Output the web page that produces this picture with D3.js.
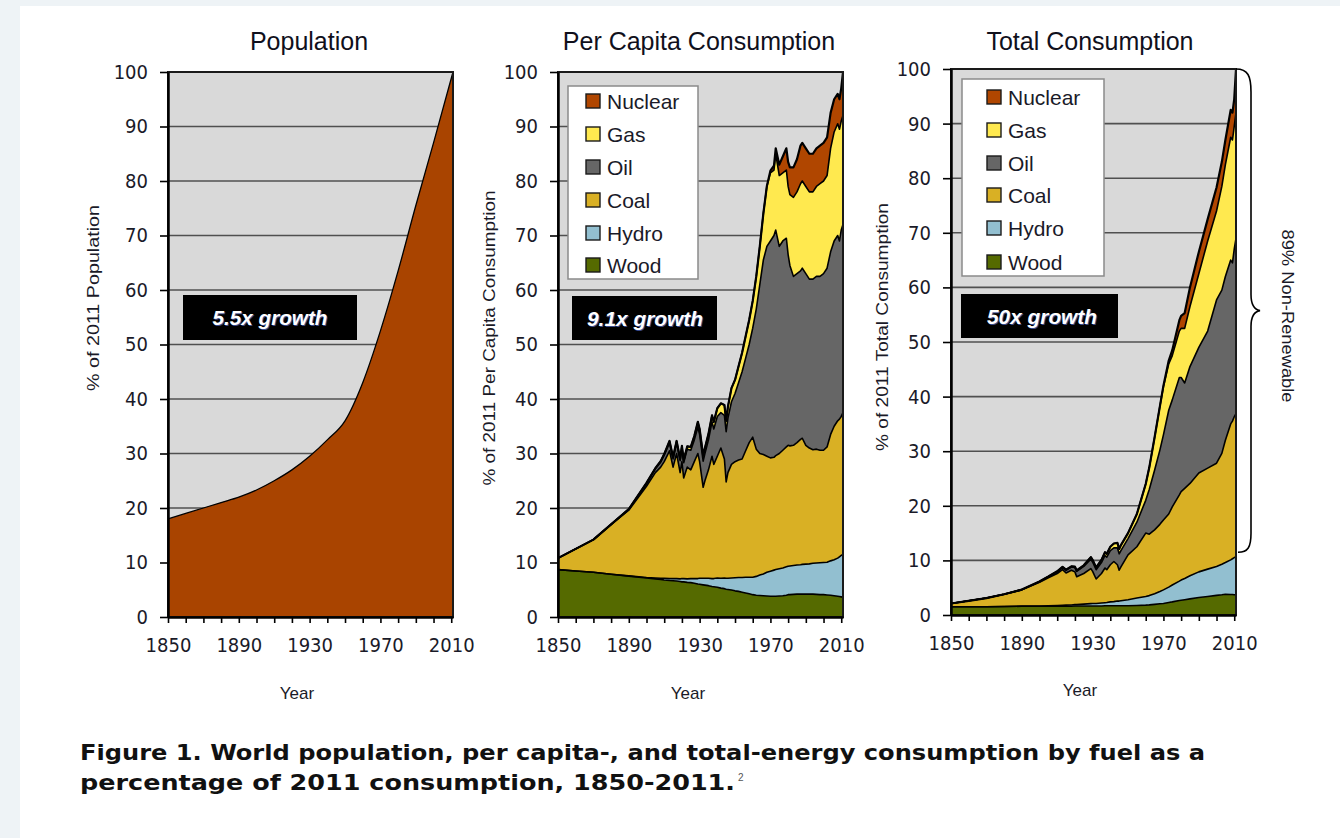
<!DOCTYPE html>
<html><head><meta charset="utf-8">
<script src="https://cdn.jsdelivr.net/npm/d3@7"></script>
<style>body{margin:0;background:#fff}svg{display:block}</style>
</head><body><svg id="c" width="1340" height="838"></svg>
<script>
// ---------- DATA ----------
const popYears  = [1850,1860,1870,1880,1890,1900,1910,1920,1930,1940,1950,1960,1970,1980,1990,2000,2011];
const popValues = [18,19,20,21,22,23.3,25,27,29.5,32.5,36,43,52.5,63.5,75.5,87,100];

const capitaYears = [1850,1860,1870,1880,1890,1900,1905,1908,1910,1913,1915,1917,1919,1920,1921,1923,1925,1927,1929,1930,1932,1933,1935,1937,1938,1940,1942,1944,1945,1946,1948,1950,1952,1954,1956,1958,1960,1962,1964,1966,1968,1970,1972,1973,1975,1977,1979,1980,1981,1983,1985,1987,1988,1990,1992,1994,1996,1998,2000,2002,2004,2006,2008,2009,2010,2011];
const capitaWood = [8.7,8.45,8.2,7.85,7.5, 7.15,7.0,6.9,6.8,6.7, 6.65,6.6,6.5,6.45,6.45, 6.35,6.3,6.2,6.05,6.0, 5.9,5.85,5.75,5.6,5.55, 5.45,5.3,5.2,5.1,5.05, 4.95,4.8,4.7,4.55,4.4, 4.25,4.1,4.0,3.95,3.9, 3.85,3.8,3.8,3.8,3.85, 3.9,4.0,4.1,4.1,4.15, 4.2,4.2,4.2,4.2,4.2, 4.2,4.15,4.1,4.1,4.05, 4.0,3.9,3.8,3.75,3.7, 3.6];
const capitaHydro = [0,0,0,0,0.05, 0.1,0.15,0.2,0.3,0.35, 0.4,0.45,0.5,0.6,0.6, 0.65,0.75,0.85,1.0,1.1, 1.2,1.25,1.35,1.45,1.5, 1.7,1.8,1.95,2.0,2.05, 2.2,2.4,2.55,2.7,2.9, 3.05,3.2,3.45,3.75,4.0, 4.35,4.6,4.8,4.9,5.0, 5.1,5.2,5.2,5.25,5.3, 5.35,5.4,5.45,5.5,5.55, 5.65,5.75,5.85,5.9,6.0, 6.3,6.6,7.0,7.3,7.6, 7.9];
const capitaCoal = [2.1,4.05,6.0,9.15,12.05, 16.75,19.35,20.4,21.4,23.45, 20.45,22.95,19.5,21.45,18.45, 20.5,19.95,21.45,22.95,21.4, 16.7,17.9,19.9,22.45,20.95, 22.35,23.9,21.85,17.7,19.4, 20.85,21.3,21.55,21.75,23.2, 24.7,25.7,23.35,22.3,21.9, 21.3,20.8,20.7,20.9,21.15, 21.6,22.0,22.2,22.05,22.05, 22.45,23.0,23.15,21.8,21.25, 20.85,20.9,20.65,20.6,21.15, 23.2,24.5,25.2,25.25,25.5, 26.0];
const capitaOil = [0,0,0,0,0.2, 0.5,0.7,0.9,1.2,1.5, 1.5,2.0,2.2,2.5,2.8, 3.3,3.6,4.0,4.8,5.0, 4.8,5.0,5.5,6.3,6.5, 7.3,6.5,8.0,9.2,10.0, 11.5,12.5,14.2,16.0,17.0, 18.0,20.0,25.7,31.0,35.7, 38.5,39.8,40.7,41.4,38.0, 38.4,38.3,35.0,33.1,31.0, 31.0,30.9,31.2,31.5,31.0, 31.3,31.7,31.9,32.4,32.8, 33.5,34.0,34.0,32.7,34.2, 34.5];
const capitaGas = [0,0,0,0,0, 0.1,0.1,0.2,0.2,0.3, 0.3,0.3,0.3,0.4,0.4, 0.5,0.6,0.7,1.0,1.0, 1.0,1.0,1.1,1.2,1.3, 1.5,1.7,1.9,2.0,2.1, 2.5,2.5,3.0,3.5,4.0, 4.5,5.0,6.0,7.0,8.5, 11.0,12.5,12.0,14.0,13.0, 12.5,12.5,12.5,13.0,14.5, 15.0,16.0,16.0,16.0,16.0, 16.0,16.5,17.0,17.0,17.0, 19.0,20.0,20.5,20.5,20.0, 20.0];
const capitaNuclear = [0,0,0,0,0, 0,0,0,0,0, 0,0,0,0,0, 0,0,0,0,0, 0,0,0,0,0, 0,0,0,0,0, 0,0,0,0,0, 0,0,0,0,0, 0.1,0.4,0.8,1.0,2.0, 3.0,4.0,4.5,5.0,5.5, 6.0,7.0,7.0,7.0,7.0, 7.0,7.0,7.0,7.0,7.0, 6.5,6.0,5.5,5.5,6.0, 8.0];

const totalYears = [1850,1860,1870,1880,1890,1900,1905,1910,1913,1915,1918,1920,1921,1925,1929,1930,1932,1935,1937,1938,1940,1942,1944,1945,1946,1950,1955,1960,1962,1965,1968,1970,1973,1975,1979,1980,1982,1985,1990,1995,2000,2003,2005,2008,2009,2010,2011];
const totalWood = [1.5,1.5,1.5,1.55,1.6, 1.6,1.6,1.6,1.6,1.6, 1.6,1.65,1.65,1.65,1.65, 1.65,1.65,1.65,1.7,1.7, 1.7,1.7,1.7,1.7,1.7, 1.7,1.75,1.8,1.85,1.95, 2.05,2.1,2.3,2.4,2.65, 2.7,2.8,2.95,3.2,3.4, 3.6,3.7,3.8,3.75,3.75, 3.7,3.7];
const totalHydro = [0,0,0,0,0.02, 0.05,0.1,0.15,0.18,0.2, 0.23,0.25,0.25,0.35,0.43, 0.45,0.47,0.55,0.55,0.58, 0.7,0.75,0.85,0.85,0.9, 1.1,1.35,1.6,1.7,1.95, 2.25,2.5,2.8,3.1,3.55, 3.7,3.9,4.25,4.7,5.0, 5.3,5.6,5.8,6.35,6.55, 6.8,7.0];
const totalCoal = [0.6,1.1,1.6,2.25,2.98, 4.35,5.1,5.85,6.52,5.9, 6.37,6.0,5.1,5.6,6.42, 5.9,4.48,5.4,6.35,6.02, 6.8,7.35,6.65,5.65,6.2, 8.2,9.4,11.6,11.25,11.7, 12.3,12.8,13.4,14.3,15.8, 16.2,16.5,16.9,18.1,18.5, 18.9,20.3,22.4,24.9,25.2, 25.8,26.2];
const totalOil = [0,0,0,0,0.05, 0.1,0.2,0.3,0.4,0.5, 0.6,0.8,1.0,1.3,1.7, 1.7,1.7,2.0,2.3,2.3, 2.6,2.5,3.1,3.0,3.0, 3.0,4.5,6.0,8.2,10.9, 13.6,15.6,19.0,19.6,21.5, 20.9,19.3,21.4,23.0,25.1, 29.9,29.9,30.0,30.0,29.0, 30.7,32.1];
const totalGas = [0,0,0,0,0, 0.05,0.05,0.1,0.1,0.1, 0.1,0.15,0.15,0.2,0.4, 0.4,0.4,0.5,0.6,0.6, 0.7,0.8,0.9,0.9,1.0, 1.0,1.5,3.0,4.0,6.0, 8.0,8.8,8.5,8.1,8.5, 9.0,10.0,11.0,13.5,16.5, 16.3,19.0,20.5,22.5,22.5, 22.5,23.0];
const totalNuclear = [0,0,0,0,0, 0,0,0,0,0, 0,0,0,0,0, 0,0,0,0,0, 0,0,0,0,0, 0,0,0,0,0, 0,0.2,0.6,1.0,2.0, 2.3,2.8,3.5,4.0,4.0, 4.3,4.5,4.5,5.0,5.0, 5.0,8.0];

const fuelNames = ["Nuclear","Gas","Oil","Coal","Hydro","Wood"];
const fuelColors = {Nuclear:"#b04600", Gas:"#ffe94f", Oil:"#666666", Coal:"#d9b024", Hydro:"#92bfd0", Wood:"#556a00"};
const yTickValues = [0,10,20,30,40,50,60,70,80,90,100];
const xTickValues = [1850,1860,1870,1880,1890,1900,1910,1920,1930,1940,1950,1960,1970,1980,1990,2000,2010];
const xTickLabels = [1850,1890,1930,1970,2010];

// ---------- DRAWING ----------
const svg = d3.select("#c");
svg.append("rect").attr("width",1340).attr("height",838).attr("fill","#eef3f6");
svg.append("rect").attr("x",20).attr("y",6).attr("width",1320).attr("height",832).attr("fill","#ffffff");

const TXT = "#1a1a28";
const SANS = "'Liberation Sans', Arial, sans-serif";
const TICKF = "'DejaVu Sans Condensed', 'Liberation Sans', sans-serif";

function makeRows(years, series) {
  return years.map((yr, i) => {
    const r = {year: yr};
    for (const k in series) r[k] = series[k][i];
    return r;
  });
}

function panel(cfg) {
  const x = d3.scaleLinear().domain([1850, 2011]).range([cfg.left, cfg.right]);
  const y = d3.scaleLinear().domain([0, 100]).range([cfg.bottom, cfg.top]);
  const g = svg.append("g");

  g.append("rect").attr("x", x(1850)).attr("y", y(100))
    .attr("width", x(2011) - x(1850)).attr("height", y(0) - y(100)).attr("fill", "#d9d9d9");

  g.selectAll("line.grid").data(yTickValues.filter(v => v > 0 && v < 100)).join("line")
    .attr("x1", x(1850)).attr("x2", x(2011)).attr("y1", d => y(d)).attr("y2", d => y(d))
    .attr("stroke", "#505050").attr("stroke-width", 1.6);

  cfg.draw(g, x, y);

  g.append("rect").attr("x", x(1850)).attr("y", y(100))
    .attr("width", x(2011) - x(1850)).attr("height", y(0) - y(100))
    .attr("fill", "none").attr("stroke", "#1a1a1a").attr("stroke-width", 2);

  const ay = g.append("g").attr("transform", `translate(${x(1850)},0)`)
    .call(d3.axisLeft(y).tickValues(yTickValues).tickSize(8).tickSizeOuter(0).tickPadding(12));
  ay.attr("font-family", TICKF).attr("font-size", 20);
  ay.select(".domain").attr("stroke", "#000").attr("stroke-width", 2.5);
  ay.selectAll(".tick line").attr("stroke", "#000").attr("stroke-width", 1.6);
  ay.selectAll("text").attr("fill", TXT);

  const ax = g.append("g").attr("transform", `translate(0,${y(0)})`)
    .call(d3.axisBottom(x).tickValues(xTickValues).tickSize(6).tickSizeOuter(0).tickPadding(15)
      .tickFormat(d => xTickLabels.includes(d) ? String(d) : ""));
  ax.attr("font-family", TICKF).attr("font-size", 20);
  ax.select(".domain").attr("stroke", "#000").attr("stroke-width", 2.5);
  ax.selectAll(".tick line").attr("stroke", "#000").attr("stroke-width", 1.6);
  ax.selectAll("text").attr("fill", TXT);

  svg.append("text").attr("x", cfg.titleX).attr("y", 50).attr("text-anchor", "middle")
    .attr("font-family", SANS).attr("font-size", 25).attr("fill", "#10101c").text(cfg.title);

  svg.append("text").attr("transform", `translate(${cfg.ylabX},${cfg.ylabY}) rotate(-90)`)
    .attr("text-anchor", "middle").attr("dominant-baseline", "central")
    .attr("font-family", SANS).attr("font-size", 16).attr("fill", TXT)
    .attr("textLength", cfg.ylabLen).attr("lengthAdjust", "spacingAndGlyphs")
    .text(cfg.ylabel);

  svg.append("text").attr("x", cfg.yearX).attr("y", cfg.yearY).attr("text-anchor", "middle")
    .attr("dominant-baseline", "central")
    .attr("font-family", SANS).attr("font-size", 17).attr("fill", TXT).text("Year");

  const b = cfg.box;
  svg.append("rect").attr("x", b.x).attr("y", b.y).attr("width", b.w).attr("height", b.h).attr("fill", "#000");
  svg.append("text").attr("x", b.tx + 1).attr("y", b.y + b.h / 2 + 1).attr("text-anchor", "middle")
    .attr("dominant-baseline", "central").attr("font-family", SANS).attr("font-size", 21)
    .attr("font-weight", "bold").attr("font-style", "italic").attr("fill", "#3a4a8a")
    .attr("textLength", b.tl).attr("lengthAdjust", "spacingAndGlyphs").text(b.text);
  svg.append("text").attr("x", b.tx).attr("y", b.y + b.h / 2).attr("text-anchor", "middle")
    .attr("dominant-baseline", "central").attr("font-family", SANS).attr("font-size", 21)
    .attr("font-weight", "bold").attr("font-style", "italic").attr("fill", "#ffffff")
    .attr("textLength", b.tl).attr("lengthAdjust", "spacingAndGlyphs").text(b.text);

  if (cfg.legend) {
    const L = cfg.legend;
    svg.append("rect").attr("x", L.x).attr("y", L.y).attr("width", L.w).attr("height", L.h)
      .attr("fill", "#fff").attr("stroke", "#8a8a8a").attr("stroke-width", 1.5);
    fuelNames.forEach((f, i) => {
      const cy = L.rows[i];
      svg.append("rect").attr("x", L.sx).attr("y", cy - 7).attr("width", 14).attr("height", 14)
        .attr("fill", fuelColors[f]).attr("stroke", "#1a1a1a").attr("stroke-width", 1.4);
      svg.append("text").attr("x", L.tx).attr("y", cy).attr("dominant-baseline", "central")
        .attr("font-family", SANS).attr("font-size", 21).attr("fill", TXT).text(f);
    });
  }
  return {x, y};
}

function stackDraw(years, series) {
  return (g, x, y) => {
    const rows = makeRows(years, series);
    const keys = ["Wood", "Hydro", "Coal", "Oil", "Gas", "Nuclear"];
    const stacked = d3.stack().keys(keys)(rows);
    const area = d3.area().x(d => x(d.data.year)).y0(d => y(d[0])).y1(d => y(d[1]));
    const line = d3.line().x(d => x(d.data.year)).y(d => y(d[1]));
    g.selectAll("path.layer").data(stacked).join("path")
      .attr("d", area).attr("fill", d => fuelColors[d.key]);
    g.selectAll("path.edge").data(stacked).join("path")
      .attr("d", line).attr("fill", "none").attr("stroke", "#000")
      .attr("stroke-width", d => d.key === "Nuclear" ? 2.2 : 1.6).attr("stroke-linejoin", "round");
  };
}

panel({
  left: 168, right: 453, top: 72, bottom: 617,
  title: "Population", titleX: 309,
  ylabel: "% of 2011 Population", ylabX: 93, ylabY: 298, ylabLen: 186,
  yearX: 297, yearY: 693,
  box: {x: 183, y: 295, w: 174, h: 45, tx: 270, tl: 115, text: "5.5x growth"},
  draw: (g, x, y) => {
    const rows = popYears.map((yr, i) => ({year: yr, v: popValues[i]}));
    g.append("path").datum(rows)
      .attr("d", d3.area().x(d => x(d.year)).y0(y(0)).y1(d => y(d.v)).curve(d3.curveMonotoneX))
      .attr("fill", "#a94400");
    g.append("path").datum(rows)
      .attr("d", d3.line().x(d => x(d.year)).y(d => y(d.v)).curve(d3.curveMonotoneX))
      .attr("fill", "none").attr("stroke", "#000").attr("stroke-width", 1.3);
  }
});

panel({
  left: 558, right: 843, top: 72, bottom: 617,
  title: "Per Capita Consumption", titleX: 699,
  ylabel: "% of  2011 Per Capita Consumption", ylabX: 489, ylabY: 338, ylabLen: 295,
  yearX: 688, yearY: 693,
  box: {x: 572, y: 296, w: 145, h: 44, tx: 645, tl: 116, text: "9.1x growth"},
  legend: {x: 568, y: 86, w: 130, h: 193, sx: 586, tx: 607, rows: [101, 134, 167, 200, 233, 265]},
  draw: stackDraw(capitaYears, {Wood: capitaWood, Hydro: capitaHydro, Coal: capitaCoal, Oil: capitaOil, Gas: capitaGas, Nuclear: capitaNuclear})
});

const p3 = panel({
  left: 951, right: 1236, top: 69, bottom: 615,
  title: "Total Consumption", titleX: 1090,
  ylabel: "% of 2011 Total Consumption", ylabX: 882, ylabY: 327, ylabLen: 248,
  yearX: 1080, yearY: 690,
  box: {x: 961, y: 294, w: 157, h: 44, tx: 1042, tl: 110, text: "50x growth"},
  legend: {x: 962, y: 79, w: 142, h: 197, sx: 987, tx: 1008, rows: [97, 130, 163, 195, 228, 262]},
  draw: stackDraw(totalYears, {Wood: totalWood, Hydro: totalHydro, Coal: totalCoal, Oil: totalOil, Gas: totalGas, Nuclear: totalNuclear})
});

{
  const x = p3.x, y = p3.y;
  const xr = x(2011), top = y(100), bot = y(11.5), mid = (top + bot) / 2;
  const p = d3.path();
  p.moveTo(xr, top);
  p.bezierCurveTo(xr + 12, top, xr + 15, top + 7, xr + 15, top + 23);
  p.lineTo(xr + 15, mid - 16);
  p.bezierCurveTo(xr + 15, mid - 6, xr + 18, mid - 1, xr + 24, mid);
  p.bezierCurveTo(xr + 18, mid + 1, xr + 15, mid + 6, xr + 15, mid + 16);
  p.lineTo(xr + 15, bot - 19);
  p.bezierCurveTo(xr + 15, bot - 5, xr + 12, bot, xr + 2, bot);
  svg.append("path").attr("d", p.toString()).attr("fill", "none").attr("stroke", "#000").attr("stroke-width", 1.6);
  svg.append("text").attr("transform", `translate(1287,316) rotate(90)`)
    .attr("text-anchor", "middle").attr("dominant-baseline", "central")
    .attr("font-family", SANS).attr("font-size", 16).attr("fill", TXT)
    .attr("textLength", 173).attr("lengthAdjust", "spacingAndGlyphs").text("89% Non-Renewable");
}

const CAP = "'DejaVu Sans Condensed', 'Liberation Sans Narrow', 'Liberation Sans', sans-serif";
svg.append("text").attr("x", 80).attr("y", 760).attr("font-family", CAP).attr("font-weight", "bold")
  .attr("font-size", 22).attr("fill", "#111").attr("textLength", 1125).attr("lengthAdjust", "spacingAndGlyphs")
  .text("Figure 1. World population, per capita-, and total-energy consumption by fuel as a");
svg.append("text").attr("x", 80).attr("y", 790).attr("font-family", CAP).attr("font-weight", "bold")
  .attr("font-size", 22).attr("fill", "#111").attr("textLength", 655).attr("lengthAdjust", "spacingAndGlyphs")
  .text("percentage of 2011 consumption, 1850-2011.");
svg.append("text").attr("x", 738).attr("y", 781).attr("font-family", SANS)
  .attr("font-size", 10).attr("fill", "#555").text("2");
</script></body></html>
